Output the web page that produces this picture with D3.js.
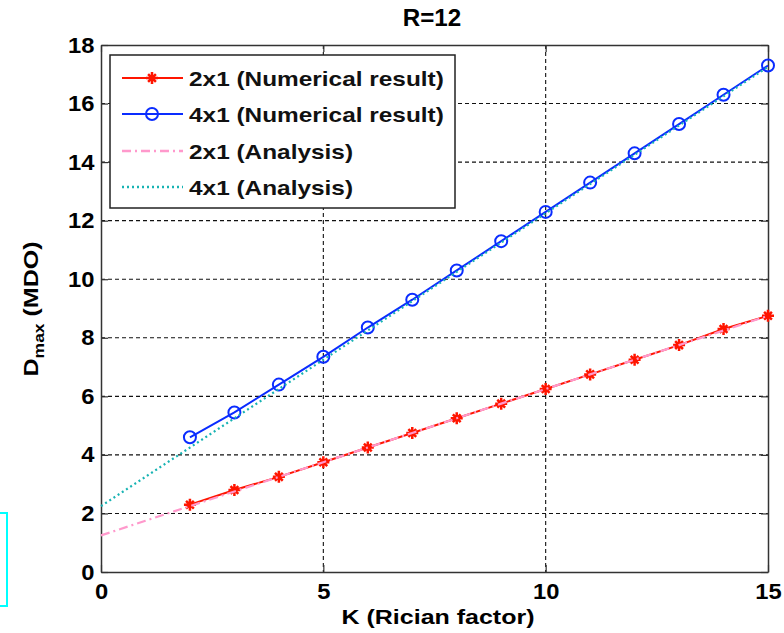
<!DOCTYPE html>
<html>
<head>
<meta charset="utf-8">
<script src="https://cdn.jsdelivr.net/npm/d3@7"></script>
<style>
  html, body { margin: 0; padding: 0; background: #fff; }
  svg { display: block; font-family: "Liberation Sans", Arial, Helvetica, sans-serif; }
</style>
</head>
<body>
<svg id="chart" width="784" height="633"></svg>
<script>
// Rician factor K for the numerical runs and for the analytic curves
const kNumerical = [2, 3, 4, 5, 6, 7, 8, 9, 10, 11, 12, 13, 14, 15];
const kAnalysis = [0, 1, 2, 3, 4, 5, 6, 7, 8, 9, 10, 11, 12, 13, 14, 15];

// D_max (MDO) values
const num2x1 = [2.3, 2.8, 3.25, 3.75, 4.25, 4.75, 5.25, 5.75, 6.25, 6.75, 7.25, 7.75, 8.3, 8.75];
const num4x1 = [4.6, 5.45, 6.4, 7.35, 8.35, 9.3, 10.3, 11.3, 12.3, 13.3, 14.3, 15.3, 16.3, 17.3];
const ana2x1 = [1.25, 1.75, 2.25, 2.75, 3.25, 3.75, 4.25, 4.75, 5.25, 5.75, 6.25, 6.75, 7.25, 7.75, 8.25, 8.75];
const ana4x1 = [2.25, 3.25, 4.25, 5.25, 6.25, 7.25, 8.25, 9.25, 10.25, 11.25, 12.25, 13.25, 14.25, 15.25, 16.25, 17.25];

const xTicks = [0, 5, 10, 15];
const yTicks = [0, 2, 4, 6, 8, 10, 12, 14, 16, 18];

const legendLabels = ["2x1 (Numerical result)", "4x1 (Numerical result)", "2x1 (Analysis)", "4x1 (Analysis)"];

const svg = d3.select("#chart");
const m = { left: 101, right: 768, top: 45, bottom: 572 };

const x = d3.scaleLinear().domain([0, 15]).range([m.left, m.right]);
const y = d3.scaleLinear().domain([0, 18]).range([m.bottom, m.top]);

// stray cyan frame at the left edge
svg.append("rect").attr("x", -4).attr("y", 513).attr("width", 11).attr("height", 93)
  .attr("fill", "none").attr("stroke", "#00ffff").attr("stroke-width", 2);

// dashed grid
const grid = svg.append("g");
grid.selectAll("line.gx").data(xTicks.filter(t => t > 0 && t < 15)).join("line")
  .attr("x1", d => x(d)).attr("x2", d => x(d)).attr("y1", m.top).attr("y2", m.bottom)
  .attr("stroke", "#111").attr("stroke-width", 1.1).attr("stroke-dasharray", "4,3");
grid.selectAll("line.gy").data(yTicks.filter(t => t > 0 && t < 18)).join("line")
  .attr("x1", m.left).attr("x2", m.right).attr("y1", d => y(d)).attr("y2", d => y(d))
  .attr("stroke", "#111").attr("stroke-width", 1.1).attr("stroke-dasharray", "4,3");

// axes (boxed, inward ticks)
const xAxis = d3.axisBottom(x).tickValues(xTicks).tickSizeInner(-7).tickSizeOuter(0).tickPadding(11);
const yAxis = d3.axisLeft(y).tickValues(yTicks).tickSizeInner(-7).tickSizeOuter(0).tickPadding(6);
const xTop = d3.axisTop(x).tickValues(xTicks).tickSizeInner(-7).tickSizeOuter(0).tickFormat("");
const yRight = d3.axisRight(y).tickValues(yTicks).tickSizeInner(-7).tickSizeOuter(0).tickFormat("");

function styleAxis(g) {
  g.select(".domain").attr("stroke", "#333").attr("stroke-width", 1.5);
  g.selectAll(".tick line").attr("stroke", "#333").attr("stroke-width", 1.2);
  g.selectAll(".tick text").attr("fill", "#000").style("font-size", "22px")
    .style("font-weight", "bold").style("font-family", "'Liberation Sans', Arial, sans-serif")
    .attr("transform", "scale(1.08,1)");
}
svg.append("g").attr("transform", `translate(0,${m.bottom})`).call(xAxis).call(styleAxis);
svg.append("g").attr("transform", `translate(${m.left},0)`).call(yAxis).call(styleAxis);
svg.append("g").attr("transform", `translate(0,${m.top})`).call(xTop).call(styleAxis);
svg.append("g").attr("transform", `translate(${m.right},0)`).call(yRight).call(styleAxis);

// series
const line = d3.line().x(d => x(d[0])).y(d => y(d[1]));
const zip = (a, b) => a.map((v, i) => [v, b[i]]);

const red = "#ff1500", blue = "#0a2cff", pink = "#ff99cc", teal = "#17b3b3";

// asterisk marker for 2x1
const starPath = r => {
  const d = r * 0.65;
  return `M${-r},0L${r},0M0,${-r}L0,${r}M${-d},${-d}L${d},${d}M${-d},${d}L${d},${-d}`;
};

const plot = svg.append("g");
// numerical results with markers
plot.append("path").datum(zip(kNumerical, num2x1)).attr("d", line)
  .attr("fill", "none").attr("stroke", red).attr("stroke-width", 2);
plot.selectAll("path.star").data(zip(kNumerical, num2x1)).join("path")
  .attr("class", "star")
  .attr("transform", d => `translate(${x(d[0])},${y(d[1])})`)
  .attr("d", starPath(6)).attr("fill", "none").attr("stroke", red).attr("stroke-width", 2.5);
plot.append("path").datum(zip(kNumerical, num4x1)).attr("d", line)
  .attr("fill", "none").attr("stroke", blue).attr("stroke-width", 2);
plot.selectAll("circle.mk").data(zip(kNumerical, num4x1)).join("circle")
  .attr("class", "mk")
  .attr("cx", d => x(d[0])).attr("cy", d => y(d[1])).attr("r", 6)
  .attr("fill", "none").attr("stroke", blue).attr("stroke-width", 2);
// analytic curves drawn over them
plot.append("path").datum(zip(kAnalysis, ana2x1)).attr("d", line)
  .attr("fill", "none").attr("stroke", pink).attr("stroke-width", 2.2).attr("stroke-dasharray", "9,4,2,4");
plot.append("path").datum(zip(kAnalysis, ana4x1)).attr("d", line)
  .attr("fill", "none").attr("stroke", teal).attr("stroke-width", 2.2).attr("stroke-dasharray", "2,3");

// legend
const lg = svg.append("g");
lg.append("rect").attr("x", 110).attr("y", 55).attr("width", 345).attr("height", 153)
  .attr("fill", "#fff").attr("stroke", "#222").attr("stroke-width", 1.5);
const rowY = [78, 114, 151, 187];
const styles = [
  { c: red, w: 2, dash: null, mk: "star" },
  { c: blue, w: 2, dash: null, mk: "circle" },
  { c: pink, w: 2.5, dash: "9,4,2,4", mk: null },
  { c: teal, w: 2.5, dash: "2,3", mk: null }
];
legendLabels.forEach((lab, i) => {
  const s = styles[i];
  lg.append("line").attr("x1", 122).attr("x2", 183).attr("y1", rowY[i]).attr("y2", rowY[i])
    .attr("stroke", s.c).attr("stroke-width", s.w).attr("stroke-dasharray", s.dash);
  if (s.mk === "star") {
    lg.append("path").attr("transform", `translate(152,${rowY[i]})`).attr("d", starPath(6))
      .attr("fill", "none").attr("stroke", s.c).attr("stroke-width", 2.5);
  } else if (s.mk === "circle") {
    lg.append("circle").attr("cx", 152).attr("cy", rowY[i]).attr("r", 6)
      .attr("fill", "none").attr("stroke", s.c).attr("stroke-width", 2);
  }
  lg.append("text").attr("transform", `translate(189,${rowY[i] + 8}) scale(1.22,1)`).text(lab)
    .style("font-size", "20px").style("font-weight", "bold").attr("fill", "#111");
});

// title and axis labels
svg.append("text").attr("transform", `translate(432,26) scale(1.05,1)`).attr("text-anchor", "middle")
  .text("R=12").style("font-size", "23px").style("font-weight", "bold");
svg.append("text").attr("transform", `translate(438,624) scale(1.25,1)`).attr("text-anchor", "middle")
  .text("K (Rician factor)").style("font-size", "20px").style("font-weight", "bold");
const yl = svg.append("text").attr("transform", `translate(38,309) rotate(-90) scale(1.25,1)`)
  .attr("text-anchor", "middle").style("font-size", "20px").style("font-weight", "bold");
yl.append("tspan").text("D");
yl.append("tspan").attr("dy", 6).style("font-size", "14px").text("max");
yl.append("tspan").attr("dy", -6).text(" (MDO)");
</script>
</body>
</html>
